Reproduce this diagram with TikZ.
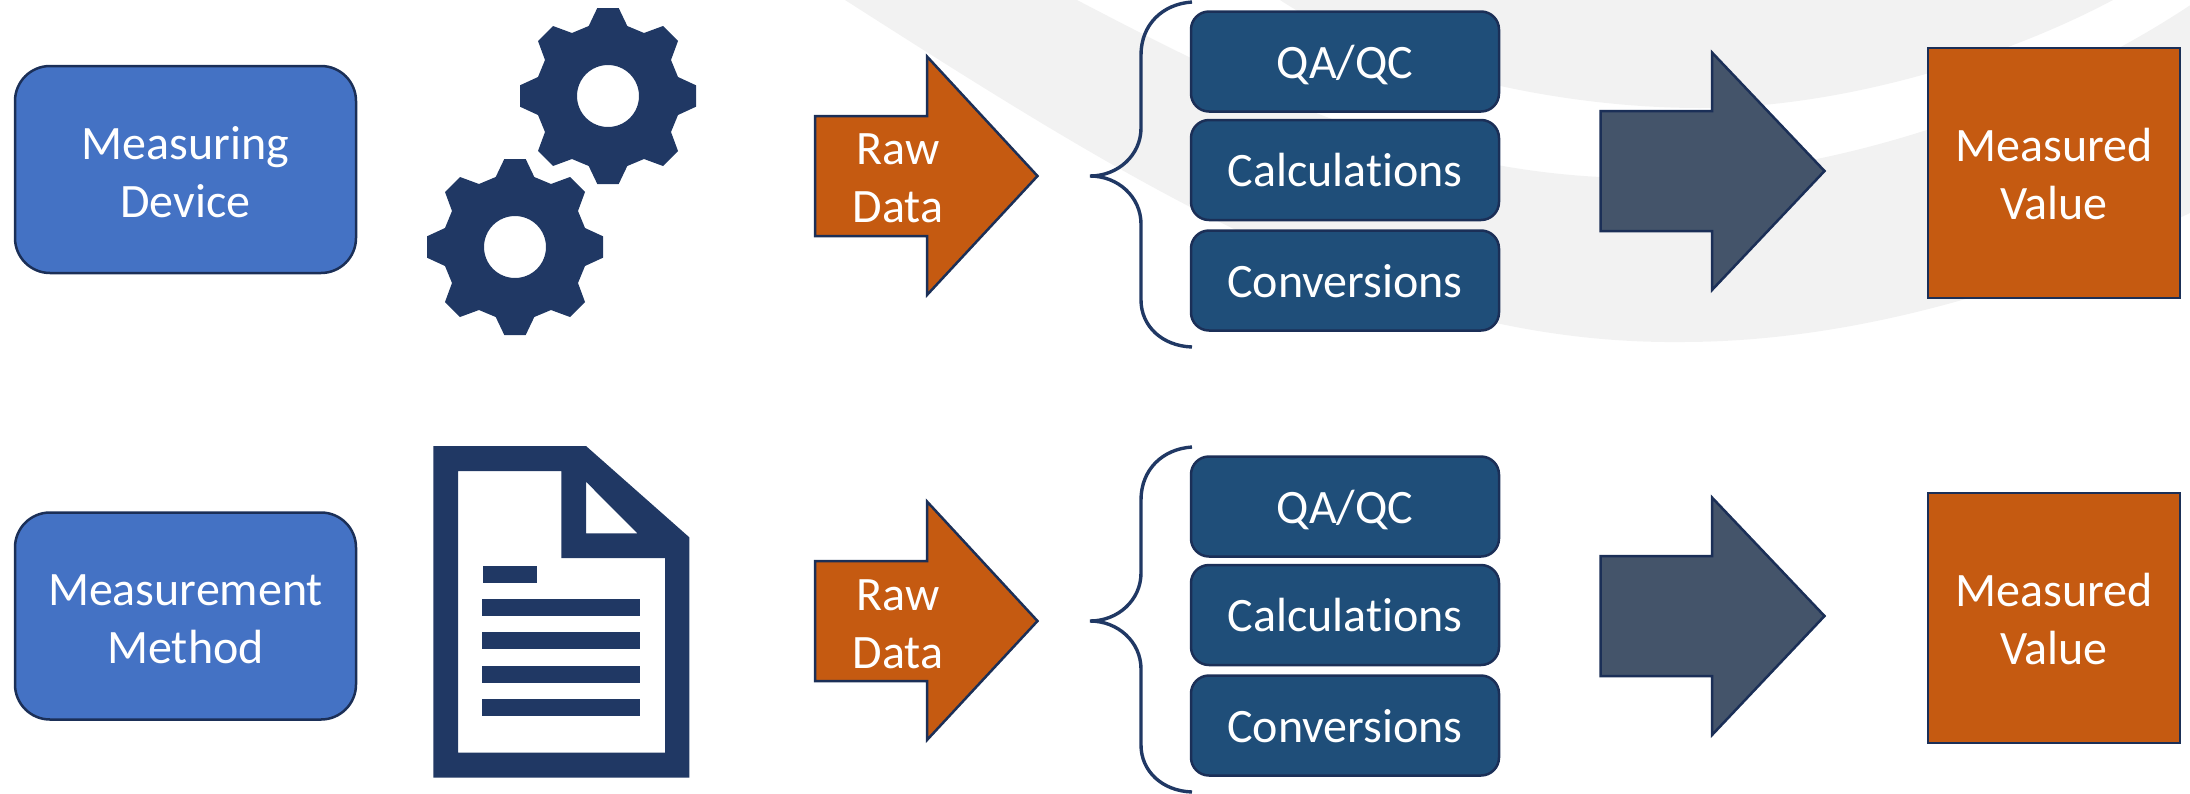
\documentclass[tikz,border=0pt]{standalone}
\usepackage{fontspec}
\setmainfont[Ligatures=NoCommon]{Carlito}
\definecolor{navy}{HTML}{203864}
\definecolor{edge}{HTML}{1B2F57}
\definecolor{bluebox}{HTML}{4472C4}
\definecolor{tealbox}{HTML}{1F4E79}
\definecolor{rust}{HTML}{C55A11}
\definecolor{slatearrow}{HTML}{44546A}
\definecolor{swoosh}{HTML}{F2F2F2}
\newcommand{\nudgedown}[1]{\rule{0pt}{#1pt}}
\tikzset{
  lbl/.style={text=white,font=\fontsize{48}{58}\selectfont,align=center,inner sep=0pt},
  startbox/.style={draw=edge,line width=2.5pt,fill=bluebox,rounded corners=35pt,minimum width=341pt,minimum height=207pt,lbl},
  stepbox/.style={draw=edge,line width=2.5pt,fill=tealbox,rounded corners=18pt,minimum width=308pt,minimum height=100pt,lbl,text height=33pt,text depth=0pt},
  resultbox/.style={draw=edge,line width=2.5pt,fill=rust,minimum width=252pt,minimum height=250pt,lbl},
  orangearrow/.style={draw=edge,line width=2.5pt,fill=rust,line join=miter},
  darkarrow/.style={draw=edge,line width=2.5pt,fill=slatearrow,line join=miter},
  bracket/.style={draw=navy,line width=3.4pt},
  iconfill/.style={fill=navy,even odd rule},
  pics/gear/.style={code={
    \fill[iconfill]
      (-10.7,-88)--(10.7,-88)--(19.3,-70)--(36,-63)--(55,-70)--(70,-55)--(63,-36)--(70,-19)--
      (88,-10.7)--(88,10.7)--(70,19)--(63,36)--(70,55)--(55,70)--(36,63)--(19.3,70)--
      (10.7,88)--(-10.7,88)--(-19.3,70)--(-36,63)--(-55,70)--(-70,55)--(-63,36)--(-70,19)--
      (-88,10.7)--(-88,-10.7)--(-70,-19)--(-63,-36)--(-70,-55)--(-55,-70)--(-36,-63)--(-19.3,-70)--cycle
      (0,0) circle[radius=31];
  }},
  pics/flow/.style={code={
    \path[orangearrow] (815,116)--(927,116)--(927,56.5)--(1037.5,176)--(927,295)--(927,236)--(815,236)--cycle;
    \path[bracket] (1192,2) .. controls (1162,4) and (1141,25) .. (1141,55) -- (1141,128)
      .. controls (1141,155) and (1118,176) .. (1090,176)
      .. controls (1118,176) and (1141,197) .. (1141,224) -- (1141,300)
      .. controls (1141,326) and (1162,346) .. (1192,347);
    \path[darkarrow] (1600.7,111)--(1712,111)--(1712,52.5)--(1824.5,171)--(1712,290)--(1712,231)--(1600.7,231)--cycle;
  }}
}
\begin{document}
\begin{tikzpicture}[x=1pt,y=-1pt]
\useasboundingbox (0,0) rectangle (2190,793);
% background swooshes
\begin{scope}
\clip (0,0) rectangle (2190,793);
\fill[swoosh] (845,0) .. controls (1150,195) and (1390,345) .. (1682,342)
  .. controls (1850,342) and (2030,290) .. (2192,212) -- (2192,4)
  .. controls (2040,105) and (1830,178) .. (1640,178)
  .. controls (1420,178) and (1240,85) .. (1077,0) -- cycle;
\fill[swoosh] (1280,0) .. controls (1390,72) and (1560,108) .. (1700,108)
  .. controls (1840,108) and (2000,60) .. (2113,0) -- cycle;
\end{scope}
% left boxes
\node[startbox] (device) at (185.5,169.5) {\nudgedown{38}Measuring\\Device};
\node[startbox] (method) at (185.5,616) {\nudgedown{38}Measurement\\Method};
% gears
\pic at (608,96) {gear};
\pic at (515,247) {gear};
% document icon
\fill[iconfill] (433.3,446)--(586,446)--(689.3,537.3)--(689.3,777.7)--(433.3,777.7)--cycle
  (458,471)--(561.3,471)--(561.3,558)--(665,558)--(665,752.7)--(458,752.7)--cycle
  (586,481.7)--(637.3,533.3)--(586,533.3)--cycle;
\fill[navy] (483,566) rectangle (537,583);
\fill[navy] (482,599) rectangle (640,616);
\fill[navy] (482,632) rectangle (640,649);
\fill[navy] (482,666) rectangle (640,683);
\fill[navy] (482,699) rectangle (640,716);
% arrows and brackets
\pic at (0,0) {flow};
\pic at (0,445) {flow};
\node[lbl] (raw1) at (898,178) {Raw\\Data};
\node[lbl] (raw2) at (898,624) {Raw\\Data};
% step boxes
\node[stepbox] (qa1) at (1345,61.5) {QA/QC};
\node[stepbox] (calc1) at (1345,170) {Calculations};
\node[stepbox] (conv1) at (1345,280.5) {Conversions};
\node[stepbox] (qa2) at (1345,506.5) {QA/QC};
\node[stepbox] (calc2) at (1345,615) {Calculations};
\node[stepbox] (conv2) at (1345,725.5) {Conversions};
% results
\node[resultbox] (val1) at (2054,173) {\nudgedown{36}Measured\\Value};
\node[resultbox] (val2) at (2054,618) {\nudgedown{36}Measured\\Value};
\end{tikzpicture}
\end{document}
